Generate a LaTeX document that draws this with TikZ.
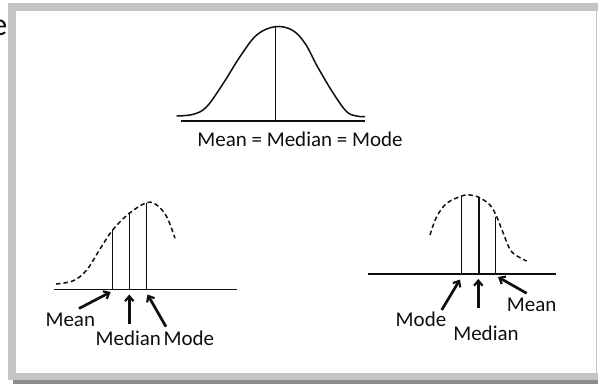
\documentclass[tikz,border=0pt]{standalone}
\usepackage{fontspec}
\setmainfont{Carlito}
\usetikzlibrary{arrows.meta}
\definecolor{framelight}{RGB}{196,196,196}
\definecolor{framedark}{RGB}{140,140,140}
\definecolor{ink}{RGB}{15,15,15}
\begin{document}
\begin{tikzpicture}[x=1pt,y=-1pt,
  thinline/.style={draw=ink,line width=1.5pt},
  dashcurve/.style={draw=ink,line width=1.5pt,dash pattern=on 4.5pt off 3pt},
  pointer/.style={draw=ink,line width=2.7pt,-{Straight Barb[length=5pt,width=8.5pt,line width=2.2pt]}},
  label/.style={inner sep=0pt,anchor=base,text=ink,font=\fontsize{21}{25}\selectfont}]
\useasboundingbox (0,0) rectangle (598,384);
% frame
\fill[white] (0,0) rectangle (598,384);
\fill[framelight] (8,3) rectangle (598,11);
\fill[framelight] (8,3) rectangle (16,380);
\fill[framelight] (8,373) rectangle (598,380);
\fill[framedark] (13,380) rectangle (598,384);
\fill[framelight] (596.2,11) rectangle (597.4,373);
\node[inner sep=0pt,anchor=base east,text=ink,font=\fontsize{32}{36}\selectfont] (cut) at (7.5,35) {e};

% ---------- symmetric ----------
\coordinate (sb1) at (181,121);
\coordinate (sb2) at (365,121);
\draw[thinline] (sb1) -- (sb2);
\draw[thinline,line join=round] plot[smooth,tension=0.6] coordinates {(176.7,116) (193.3,114.3) (206.7,106.7) (223.3,83.3) (240,56.7) (256.7,35) (275,26.7) (292,30) (305,43.3) (317.5,66.7) (333.3,93.3) (346.7,111.7) (356.7,116) (365,116.7)};
\coordinate (speak) at (275.5,27);
\coordinate (sfoot) at (275.5,121);
\draw[thinline] (speak) -- (sfoot);
\node[label] (sym) at (300,146) {Mean = Median = Mode};

% ---------- left panel (negatively skewed) ----------
\coordinate (lb1) at (54,289.3);
\coordinate (lb2) at (237.3,289.3);
\draw[thinline] (lb1) -- (lb2);
\draw[dashcurve] plot[smooth,tension=0.6] coordinates {(56,284) (73.3,280.7) (86.7,270) (100,249) (112.7,230) (129.3,213.3) (146.7,202.7) (156.7,205) (166.7,216.7) (175,238.3)};
\coordinate (lmeanT) at (112.7,230);
\coordinate (lmeanB) at (112.7,289.3);
\coordinate (lmedT) at (129.3,213.3);
\coordinate (lmedB) at (129.3,289.3);
\coordinate (lmodT) at (146.3,202.7);
\coordinate (lmodB) at (146.3,289.3);
\draw[thinline] (lmeanT) -- (lmeanB);
\draw[thinline] (lmedT) -- (lmedB);
\draw[thinline] (lmodT) -- (lmodB);
\coordinate (lmeanTail) at (79,308.5);
\coordinate (lmeanTip) at (110.7,292);
\coordinate (lmedTail) at (129.3,323.5);
\coordinate (lmedTip) at (129.3,294.5);
\coordinate (lmodTail) at (166,326.7);
\coordinate (lmodTip) at (147.5,294.5);
\draw[pointer] (lmeanTail) -- (lmeanTip);
\draw[pointer] (lmedTail) -- (lmedTip);
\draw[pointer] (lmodTail) -- (lmodTip);
\node[label] (lmean) at (70.3,326.7) {Mean};
\node[label] (lmed) at (128.3,345) {Median};
\node[label] (lmod) at (188.8,345) {Mode};

% ---------- right panel (positively skewed) ----------
\coordinate (rb1) at (368.3,274);
\coordinate (rb2) at (556,274);
\draw[thinline] (rb1) -- (rb2);
\draw[dashcurve] plot[smooth,tension=0.6] coordinates {(430,235) (436.7,216.7) (446.7,203.3) (461.7,196) (470,195) (479,197.3) (490,205) (496.7,216.7) (503.3,233.3) (511.7,251.7) (526.7,261)};
\coordinate (rmodT) at (461.7,196);
\coordinate (rmodB) at (461.7,274);
\coordinate (rmedT) at (478.8,197.3);
\coordinate (rmedB) at (478.8,274);
\coordinate (rmeanT) at (495.7,217.3);
\coordinate (rmeanB) at (495.7,274);
\draw[thinline] (rmodT) -- (rmodB);
\draw[thinline] (rmedT) -- (rmedB);
\draw[thinline] (rmeanT) -- (rmeanB);
\coordinate (rmodTail) at (441.7,310);
\coordinate (rmodTip) at (460,279.5);
\coordinate (rmedTail) at (478.3,307.7);
\coordinate (rmedTip) at (478.3,279);
\coordinate (rmeanTail) at (526.7,293.3);
\coordinate (rmeanTip) at (498,277);
\draw[pointer] (rmodTail) -- (rmodTip);
\draw[pointer] (rmedTail) -- (rmedTip);
\draw[pointer] (rmeanTail) -- (rmeanTip);
\node[label] (rmod) at (421,326.7) {Mode};
\node[label] (rmed) at (486,340) {Median};
\node[label] (rmean) at (531.7,311.7) {Mean};
\end{tikzpicture}
\end{document}
